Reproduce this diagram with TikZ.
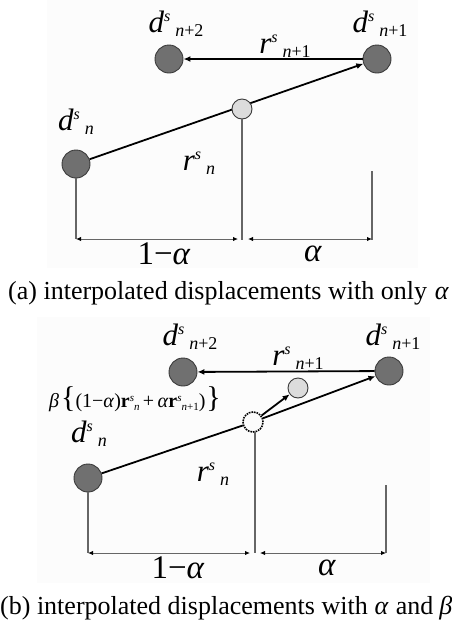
\documentclass[tikz,border=0pt]{standalone}
\usepackage{fontspec}
\setmainfont{Liberation Serif}
\usetikzlibrary{arrows.meta}
\definecolor{dotfill}{HTML}{707070}
\definecolor{dotline}{HTML}{3A3A3A}
\definecolor{lightfill}{HTML}{DCDCDC}
\definecolor{bgpanel}{HTML}{FCFCFC}
\newcommand\mylbl[3]{{\fontsize{31}{31}\selectfont\itshape #1}\raisebox{11pt}{\fontsize{16}{16}\selectfont\itshape #2}\hspace{5pt}\raisebox{-4pt}{\fontsize{18}{18}\selectfont #3}}
\newcommand\tinyscr[1]{{\fontsize{11}{11}\selectfont #1}}
\begin{document}
\begin{tikzpicture}[x=1pt,y=-1pt,
  dot/.style={circle,fill=dotfill,draw=dotline,line width=0.9pt,minimum size=28pt,inner sep=0pt},
  smalldot/.style={circle,fill=lightfill,draw=dotline,line width=0.9pt,minimum size=20pt,inner sep=0pt},
  ghostdot/.style={circle,draw=black,densely dotted,line width=1.6pt,minimum size=20pt,inner sep=0pt},
  mainline/.style={line width=1.8pt,black},
  mainarr/.style={mainline,-{Latex[length=7pt,width=6pt]}},
  guide/.style={line width=1.2pt,gray!80!black},
  dimarr/.style={line width=1pt,gray!80!black,{Latex[length=5pt,width=4.5pt,black]}-{Latex[length=5pt,width=4.5pt,black]}},
  lbl/.style={inner sep=0pt},
  caption/.style={inner sep=0pt,anchor=west,font=\fontsize{26}{26}\selectfont}]
\useasboundingbox (0,0) rectangle (451,625);
\fill[bgpanel] (47,0) rectangle (418,268);
\fill[bgpanel] (37,317) rectangle (430,583);
% ---------------- panel (a)
\node[dot] (an2) at (169,59) {};
\node[dot] (an1) at (377,59) {};
\node[dot] (an) at (76,164) {};
\draw[mainarr] (an1) -- (an2);
\draw[mainarr] (an) -- (an1);
\node[smalldot] (amid) at (242,109) {};
\coordinate (aleftb) at (76,239);
\coordinate (amidb) at (242,240);
\coordinate (arightt) at (372,171);
\coordinate (arightb) at (372,240);
\draw[guide] (an.south) -- (aleftb);
\draw[guide] (amid.south) -- (amidb);
\draw[guide] (arightt) -- (arightb);
\coordinate (ad1) at (76,239);
\coordinate (ad2) at (238,239);
\coordinate (ad3) at (248,239);
\coordinate (ad4) at (372,239);
\draw[dimarr] (ad1) -- (ad2);
\draw[dimarr] (ad3) -- (ad4);
\node[lbl] (la1) at (164,254) {\fontsize{33}{33}\selectfont 1−\textit{α}};
\node[lbl] (la2) at (313,254) {\fontsize{33}{33}\selectfont\textit{α}};
\node[lbl] (ltn2) at (176,24) {\mylbl{d}{s}{\textit{n}+2}};
\node[lbl] (ltn1) at (380,24) {\mylbl{d}{s}{\textit{n}+1}};
\node[lbl] (ltn) at (76,122) {\mylbl{d}{s}{\textit{n}}};
\node[lbl] (lrn1) at (285,46) {\mylbl{r}{s}{\textit{n}+1}};
\node[lbl] (lrn) at (199,163) {\mylbl{r}{s}{\textit{n}}};
\node[caption] (capa) at (8,293) {(a) interpolated displacements with only\hspace{8pt}\textit{α}};
% ---------------- panel (b)
\node[dot] (bn2) at (183,372) {};
\node[dot] (bn1) at (389,371) {};
\node[dot] (bn) at (88,478) {};
\node[ghostdot] (bg) at (253,422) {};
\node[smalldot] (bl) at (298,388) {};
\draw[mainarr] (bn1) -- (bn2);
\draw[mainline] (bn) -- (bg);
\draw[mainarr] (bg) -- (bn1);
\draw[mainarr] (bg) -- (bl);
\coordinate (bleftb) at (88,553);
\coordinate (bmidt) at (255,432);
\coordinate (bmidb) at (255,553);
\coordinate (brightt) at (386,485);
\coordinate (brightb) at (386,553);
\draw[guide] (bn.south) -- (bleftb);
\draw[guide] (bmidt) -- (bmidb);
\draw[guide] (brightt) -- (brightb);
\coordinate (bd1) at (88,553);
\coordinate (bd2) at (250,553);
\coordinate (bd3) at (260,553);
\coordinate (bd4) at (386,553);
\draw[dimarr] (bd1) -- (bd2);
\draw[dimarr] (bd3) -- (bd4);
\node[lbl] (lb1) at (178,568) {\fontsize{33}{33}\selectfont 1−\textit{α}};
\node[lbl] (lb2) at (327,568) {\fontsize{33}{33}\selectfont\textit{α}};
\node[lbl] (mtn2) at (190,337) {\mylbl{d}{s}{\textit{n}+2}};
\node[lbl] (mtn1) at (393,337) {\mylbl{d}{s}{\textit{n}+1}};
\node[lbl] (mtn) at (89,434) {\mylbl{d}{s}{\textit{n}}};
\node[lbl] (mrn1) at (298,358) {\mylbl{r}{s}{\textit{n}+1}};
\node[lbl] (mrn) at (213,474) {\mylbl{r}{s}{\textit{n}}};
\node[lbl] (beta) at (135,399) {\fontsize{20}{20}\selectfont\textit{β}\hspace{2pt}{\fontsize{30}{30}\selectfont\{}(1−\textit{α})\textbf{r}\raisebox{6pt}{\tinyscr{\textit{s}}}\raisebox{-3pt}{\tinyscr{\textit{n}}}\,+\,\textit{α}\textbf{r}\raisebox{6pt}{\tinyscr{\textit{s}}}\raisebox{-3pt}{\tinyscr{\textit{n}+1}})\hspace{1pt}{\fontsize{30}{30}\selectfont\}}};
\node[caption] (capb) at (0,608) {(b) interpolated displacements with\hspace{7pt}\textit{α}\hspace{7pt}and\hspace{6pt}\textit{β}};
\end{tikzpicture}
\end{document}
